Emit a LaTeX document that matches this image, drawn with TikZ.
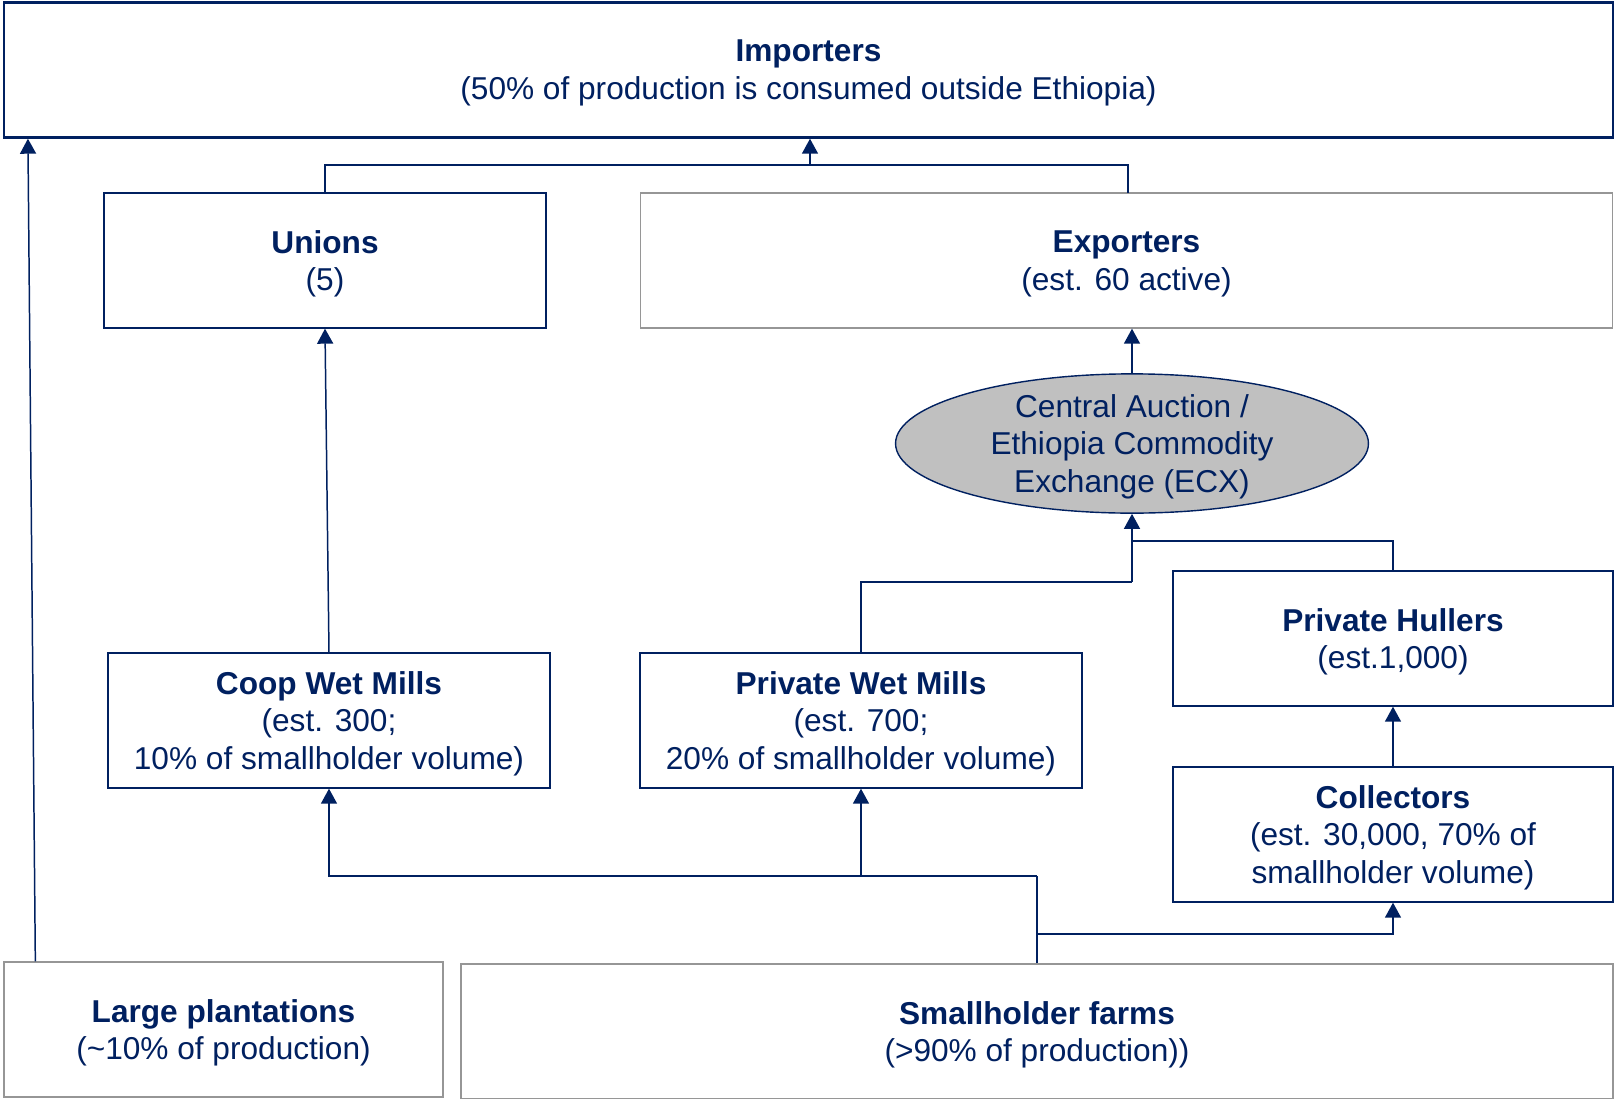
\documentclass[tikz,border=0pt]{standalone}
\usepackage{fontspec}
\setmainfont{Liberation Sans}
\usepackage{tikz}
\usetikzlibrary{arrows.meta,shapes.geometric,calc}
\definecolor{navy}{RGB}{0,32,96}
\definecolor{rimgrey}{RGB}{150,150,150}
\definecolor{hubgrey}{RGB}{192,192,192}

\begin{document}
\begin{tikzpicture}[x=0.02cm,y=-0.02cm,
    font=\fontsize{18}{21.5}\selectfont,text=navy,
    box/.style={draw=navy,line width=0.8pt,fill=white,align=center,
                minimum height=2.7cm,inner sep=0pt,text depth=-0.1cm},
    greybox/.style={box,draw=rimgrey},
    hub/.style={ellipse,draw=navy,line width=0.8pt,fill=hubgrey,align=center,
                minimum width=9.46cm,minimum height=2.7cm,inner sep=0pt,text depth=-0.08cm},
    link/.style={navy,line width=0.85pt},
    arr/.style={link,-{Triangle[length=0.3cm,width=0.32cm]}}]
  \useasboundingbox (0,0) rectangle (1614,1099);
  \node[box,line width=1.4pt,minimum width=32.18cm] (im) at (808.5,70)
      {\textbf{Importers}\\(50\% of production is consumed outside Ethiopia)};
  \node[box,minimum width=8.84cm] (un) at (325,260.5) {\textbf{Unions}\\(5)};
  \node[greybox,minimum width=19.45cm] (ex) at (1126.5,260.5)
      {\textbf{Exporters}\\(est. 60 active)};
  \node[hub] (ec) at (1132,443.5)
      {Central Auction /\\Ethiopia Commodity\\Exchange (ECX)};
  \node[box,minimum width=8.8cm] (hu) at (1393,638.5)
      {\textbf{Private Hullers}\\(est.1,000)};
  \node[box,minimum width=8.84cm] (cw) at (329,720.5)
      {\textbf{Coop Wet Mills}\\(est. 300;\\10\% of smallholder volume)};
  \node[box,minimum width=8.84cm] (pw) at (861,720.5)
      {\textbf{Private Wet Mills}\\(est. 700;\\20\% of smallholder volume)};
  \node[box,minimum width=8.8cm] (co) at (1393,834.5)
      {\textbf{Collectors}\\(est. 30,000, 70\% of\\smallholder volume)};
  \node[greybox,minimum width=8.78cm] (pl) at (223.5,1029.5)
      {\textbf{Large plantations}\\(\textasciitilde10\% of production)};
  \node[greybox,minimum width=23.04cm] (sm) at (1037,1031.5)
      {\textbf{Smallholder farms}\\(>90\% of production))};
  % junctions
  \coordinate (tj) at (810,165);
  \coordinate (ej) at (1132,582);
  \coordinate (hj) at (1132,541);
  \coordinate (sj) at (1037,876);
  \coordinate (sk) at (1037,934);
  % top level
  \draw[link] (un.north) |- (tj) -| (1128,193);
  \draw[arr] (tj) -- (tj |- im.south);
  \draw[arr] ($(pl.north west)+(32,0)$) -- ($(im.south west)+(25,0)$);
  \draw[arr] (ec.north) -- (ec.north |- ex.south);
  \draw[arr] (cw.north) -- (un.south);
  % auction feeders
  \draw[link] (pw.north) |- (ej);
  \draw[link] (hu.north) |- (hj);
  \draw[arr] (ej) -- (ec.south);
  \draw[arr] (co.north) -- (hu.south);
  % smallholder outlets
  \draw[link] (sm.north) -- (sj);
  \draw[arr] (sj) -| (pw.south);
  \draw[arr] (sj) -| (cw.south);
  \draw[arr] (sk) -| (co.south);
\end{tikzpicture}
\end{document}
